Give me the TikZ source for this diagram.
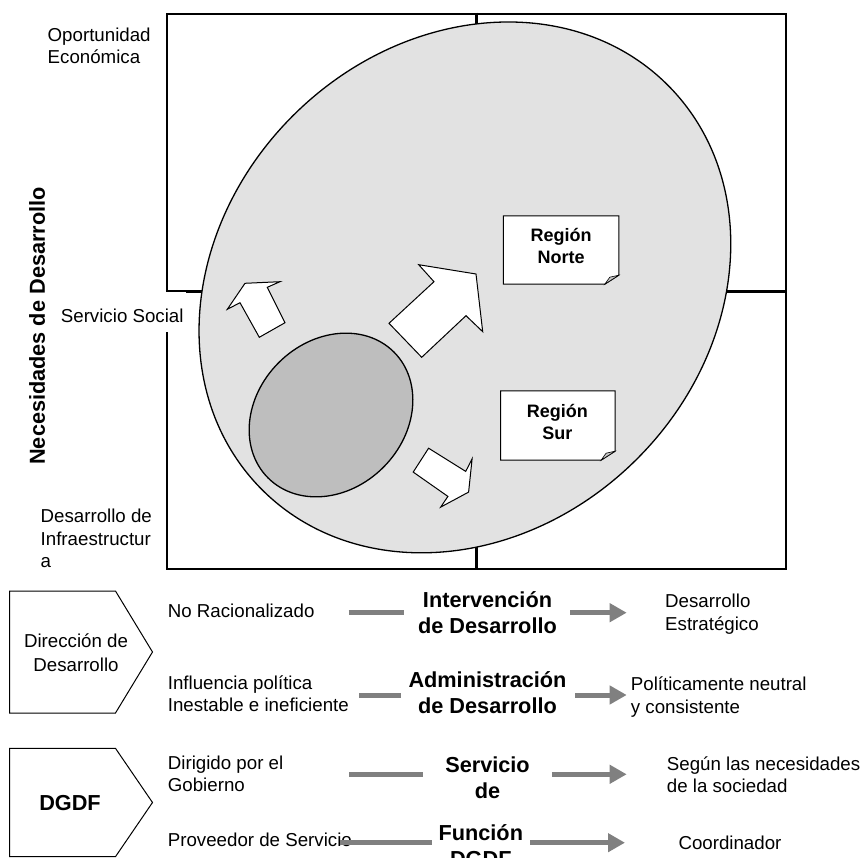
\documentclass[tikz,border=0pt]{standalone}
\usepackage{fontspec}
\setmainfont{Liberation Sans}
\usetikzlibrary{shapes.geometric,shapes.symbols,arrows.meta,positioning}
\definecolor{zonegray}{RGB}{226,226,226}
\definecolor{coregray}{RGB}{190,190,190}
\definecolor{flowgray}{RGB}{128,128,128}

\begin{document}
\begin{tikzpicture}[x=1pt,y=-1pt,
  frame/.style={draw=black,line width=2.5pt,inner sep=0pt},
  axis/.style={draw=black,line width=2.5pt},
  zone/.style={draw=black,ellipse,fill=zonegray,line width=1.3pt,inner sep=0pt},
  core/.style={draw=black,ellipse,fill=coregray,line width=1.3pt,inner sep=0pt},
  blk/.style={draw=black,fill=white,line width=1pt,line join=miter},
  note/.style={inner sep=0pt},
  sheet/.style={draw=black,fill=white,line width=1pt},
  fold/.style={draw=black,fill=gray!45,line width=0.6pt},
  notetxt/.style={inner sep=0pt,align=center,font=\bfseries\fontsize{18}{22}\selectfont},
  lbl/.style={inner sep=0pt,align=left,font=\fontsize{18.7}{22.4}\selectfont},
  head/.style={inner sep=0pt,align=center,font=\bfseries\fontsize{21.7}{26}\selectfont},
  tag/.style={draw=black,signal,signal to=east,line width=1pt,inner sep=0pt,
              minimum width=143pt},
  link/.style={draw=flowgray,line width=5pt},
  flow/.style={draw=flowgray,line width=5pt,-{Triangle[length=17pt,width=18pt]}}
]
  \useasboundingbox (0,0) rectangle (865,858);

  % Matrix
  \node[frame,minimum width=619pt,minimum height=555pt] (grid) at (476.5,291.5) {};
  \draw[axis] (grid.north) -- (grid.south);
  \draw[axis] (grid.west) -- (grid.east);

  % Regions
  \node[zone,rotate=44.7,minimum width=573pt,minimum height=486pt] (zone) at (464.9,287.4) {};
  \node[core,rotate=45,minimum width=178pt,minimum height=148pt] (core) at (331,415) {};

  % Block arrows
  \draw[blk] (245,283.3) -- (280,281.7) -- (267.3,287.3) -- (285,322.7)
    -- (259.3,337.3) -- (240,302.7) -- (227.3,309.3) -- cycle;
  \draw[blk] (476,274) -- (482.7,331.7) -- (466,315.7) -- (421.7,357.3)
    -- (389,323.3) -- (434,281.7) -- (418.7,264.7) -- cycle;
  \draw[blk] (428.6,448.2) -- (465.7,471.4) -- (472.1,458.9) -- (468.6,492.1)
    -- (440.7,507.1) -- (447.9,496.4) -- (413.2,472.1) -- cycle;

  % Region notes
  \node[note,minimum width=115pt,minimum height=68pt] (norte) at (561.1,250) {};
  \node[note,minimum width=114pt,minimum height=69pt] (sur) at (557.9,425.5) {};
  \foreach \n in {norte,sur}{
    \draw[sheet] (\n.north west) -- (\n.north east) -- ([yshift=9pt]\n.south east)
      -- ([xshift=-14pt]\n.south east) -- (\n.south west) -- cycle;
    \draw[fold] ([yshift=9pt]\n.south east) -- ([xshift=-14pt]\n.south east)
      -- ([xshift=-9pt,yshift=7pt]\n.south east) -- cycle;
  }
  \node[notetxt,anchor=base] (nortetxt) at (561.1,264) {Región\\Norte};
  \node[notetxt,anchor=base] (surtxt) at (557.3,439.3) {Región\\Sur};

  % Axis labels
  \node[lbl,anchor=base west] (opor) at (47.5,64) {Oportunidad\\Económica};
  \node[lbl,anchor=base west,fill=white,text height=30.3pt,text depth=9.7pt,
        inner xsep=2pt] (social) at (58.7,322.3) {Servicio Social};
  \node[lbl,anchor=base west] (infra) at (40.5,567.5) {Desarrollo de\\Infraestructur\\a};
  \node[head,rotate=90] (needs) at (37,326) {Necesidades de Desarrollo};

  % Lower table
  \node[tag,minimum height=122pt,signal pointer angle=117.5,anchor=west] (dir) at (9,652) {};
  \node[lbl,align=center,anchor=base,font=\fontsize{18.7}{24.7}\selectfont]
    (dirtxt) at (76,671.7) {Dirección de\\Desarrollo};
  \node[tag,minimum height=108.4pt,signal pointer angle=111.3,anchor=west] (dgdf) at (9,802.5) {};
  \node[head,anchor=base] (dgdftxt) at (70,810.7) {DGDF};

  \node[lbl,anchor=base west] (norac) at (167.7,617.7) {No Racionalizado};
  \node[lbl,anchor=base west] (influ) at (167.7,711.7) {Influencia política\\Inestable e ineficiente};
  \node[lbl,anchor=base west] (dirig) at (167.7,791.7) {Dirigido por el\\Gobierno};
  \node[lbl,anchor=base west] (prov) at (167.7,846) {Proveedor de Servicio};

  \node[head,anchor=base] (interv) at (487.5,633.3) {Intervención\\de Desarrollo};
  \node[head,anchor=base] (admin) at (487.5,713.8) {Administración\\de Desarrollo};
  \node[head,anchor=base] (servicio) at (487.5,798.3) {Servicio\\de};
  \node[head,anchor=base] (funcion) at (480.8,866) {Función\\DGDF};

  \node[lbl,anchor=base west] (estrat) at (665,630) {Desarrollo\\Estratégico};
  \node[lbl,anchor=base west] (neutral) at (630.7,713.3) {Políticamente neutral\\y consistente};
  \node[lbl,anchor=base west] (segun) at (666.7,792.4) {Según las necesidades\\de la sociedad};
  \node[lbl,anchor=base west] (coord) at (678.3,849) {Coordinador};

  % Rows
  \coordinate (r1) at (0,612.7);
  \coordinate (r2) at (0,695);
  \coordinate (r3) at (0,774.3);
  \coordinate (r4) at (0,842.7);
  \draw[link,shorten <=34pt,shorten >=14pt] (norac.east |- r1) -- (interv.west |- r1);
  \draw[flow,shorten <=13pt,shorten >=38.3pt] (interv.east |- r1) -- (estrat.west |- r1);
  \draw[link,shorten <=10.4pt,shorten >=7.8pt] (influ.east |- r2) -- (admin.west |- r2);
  \draw[flow,shorten <=8.5pt,shorten >=4pt] (admin.east |- r2) -- (neutral.west |- r2);
  \draw[link,shorten <=65.9pt,shorten >=22.3pt] (dirig.east |- r3) -- (servicio.west |- r3);
  \draw[flow,shorten <=22pt,shorten >=40pt] (servicio.east |- r3) -- (segun.west |- r3);
  \draw[link,shorten <=6.9pt,shorten >=-11.7pt] (funcion.west |- r4) -- (prov.east |- r4);
  \draw[flow,shorten <=7pt,shorten >=53.3pt] (funcion.east |- r4) -- (coord.west |- r4);
\end{tikzpicture}
\end{document}
